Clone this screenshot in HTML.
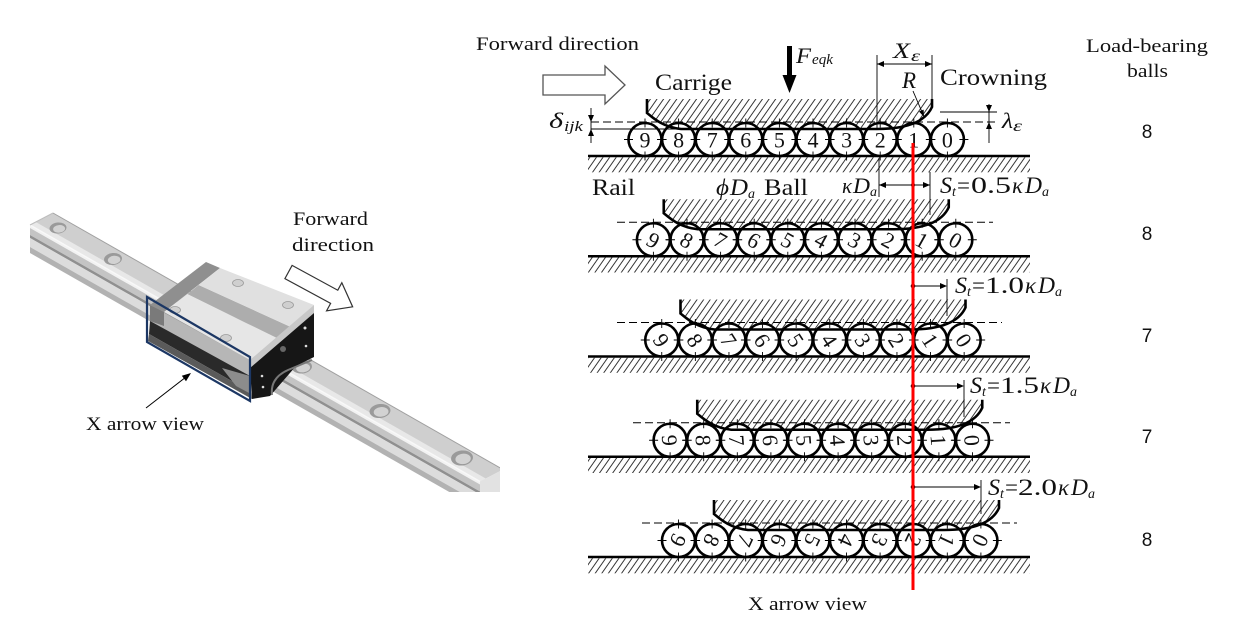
<!DOCTYPE html>
<html><head><meta charset="utf-8">
<style>
html,body{margin:0;padding:0;background:#fff;}
svg{display:block;}
text{font-family:"Liberation Serif","DejaVu Serif",serif;fill:#111;}
.s{font-family:"Liberation Sans","DejaVu Sans",sans-serif;}
.i{font-style:italic;}
</style></head><body>
<svg width="1246" height="629" viewBox="0 0 1246 629" xmlns="http://www.w3.org/2000/svg" xmlns:xlink="http://www.w3.org/1999/xlink">
<defs>
<pattern id="h" width="5.4" height="40" patternUnits="userSpaceOnUse" patternTransform="rotate(35)">
<line x1="1" y1="0" x2="1" y2="40" stroke="#222" stroke-width="0.9"/>
</pattern>
<g id="ball"><circle r="16.5" fill="#fff" stroke="#000" stroke-width="2.6"/><path d="M0 -21V-12M0 12V21M-21 0H-12M12 0H21" stroke="#000" stroke-width="0.9" fill="none"/></g>
<path id="cf" d="M647 99H932V107Q922 129 877 129H681C662 127 652 117 647 113Z"/>
<path id="co" d="M647 99V113C652 117 662 127 681 129H877Q922 129 932 107V99"/>
<clipPath id="lc"><rect x="0" y="180" width="500" height="312"/></clipPath>
</defs>

<!-- ================= LEFT 3D FIGURE ================= -->
<g clip-path="url(#lc)">
<polygon points="30,225 480,481.5 480,484.5 30,228" fill="#f2f2f2"/>
<polygon points="30,228 480,484.5 480,491.5 30,235" fill="#c4c4c4"/>
<polygon points="30,235 480,491.5 480,494.5 30,238" fill="#909090"/>
<polygon points="30,238 480,494.5 480,503.5 30,247" fill="#dcdcdc"/>
<polygon points="30,247 480,503.5 480,509.5 30,253" fill="#b2b2b2"/>
<polygon points="53,213 503,469.5 480,481.5 30,225" fill="#cfcfcf"/>
<polygon points="30,225 35.75,222 485.75,478.5 480,481.5" fill="#e8e8e8"/>
<line x1="53" y1="213" x2="503" y2="469.5" stroke="#a0a0a0" stroke-width="1"/>
<line x1="30" y1="225" x2="480" y2="481.5" stroke="#f8f8f8" stroke-width="1.4"/>
<line x1="53" y1="213" x2="30" y2="225" stroke="#bdbdbd" stroke-width="1"/>
<polygon points="503,469.5 480,481.5 480,509.5 503,497.5" fill="#e2e2e2"/>
<g transform="rotate(-6 58 228)"><ellipse cx="58" cy="228" rx="8.5" ry="5.5" fill="#9a9a9a"/><ellipse cx="59" cy="229" rx="6" ry="3.8" fill="#d2d2d2"/></g>
<g transform="rotate(-6 113 259)"><ellipse cx="113" cy="259" rx="9" ry="6" fill="#9a9a9a"/><ellipse cx="114" cy="260" rx="6.3" ry="4.1" fill="#d2d2d2"/></g>
<g transform="rotate(-6 302 367)"><ellipse cx="302" cy="367" rx="10" ry="6.5" fill="#9a9a9a"/><ellipse cx="303" cy="368" rx="7" ry="4.5" fill="#d2d2d2"/></g>
<g transform="rotate(-6 380 411)"><ellipse cx="380" cy="411" rx="10.5" ry="7" fill="#9a9a9a"/><ellipse cx="381" cy="412" rx="7.4" ry="4.8" fill="#d2d2d2"/></g>
<g transform="rotate(-6 462 458)"><ellipse cx="462" cy="458" rx="11" ry="7.5" fill="#9a9a9a"/><ellipse cx="463" cy="459" rx="7.7" ry="5.2" fill="#d2d2d2"/></g>

<!-- carriage near side -->
<polygon points="150,305 250,360 250,376 150,321" fill="#b6b6b6"/>
<polygon points="150,321 250,376 251,392 149,334" fill="#2a2a2a"/>
<polygon points="149,334 251,392 252,399 148,341" fill="#5a5a5a"/>
<polygon points="222,368 250,376 251,394 236,386" fill="#8c8c8c"/>
<!-- end cap -->
<polygon points="150,305 164,312 164,326 150,321" fill="#7a7a7a"/>
<polygon points="150,305 206,262 220,268 164,312" fill="#8f8f8f"/>
<!-- top face bands -->
<polygon points="164,312 187.5,294 276.9,338 250,360" fill="#e6e6e6"/>
<polygon points="187.5,294 198.7,285 289.7,326.5 276.9,338" fill="#adadad"/>
<polygon points="198.7,285 220,268 314,305 289.7,326.5" fill="#e0e0e0"/>
<!-- front -->
<polygon points="250,360 314,305 314,313 250,368" fill="#c8c8c8"/>
<polygon points="250,368 314,313 314,357 296,366 270,396 252,399" fill="#161616"/>
<path d="M272 395 Q270 378 288 370 L312 360" stroke="#777" stroke-width="2" fill="none"/>
<circle cx="262" cy="376" r="1.3" fill="#ddd"/><circle cx="263" cy="387" r="1.3" fill="#ddd"/>
<circle cx="305" cy="328" r="1.5" fill="#ddd"/><circle cx="306" cy="346" r="1.3" fill="#ddd"/>
<circle cx="283" cy="349" r="3" fill="#666"/>
<ellipse cx="175" cy="310" rx="5.5" ry="3.5" fill="#cfcfcf" stroke="#9a9a9a" stroke-width="0.8"/>
<ellipse cx="226" cy="338" rx="5.5" ry="3.5" fill="#cfcfcf" stroke="#9a9a9a" stroke-width="0.8"/>
<ellipse cx="238" cy="283" rx="5.5" ry="3.5" fill="#cfcfcf" stroke="#9a9a9a" stroke-width="0.8"/>
<ellipse cx="288" cy="305" rx="5.5" ry="3.5" fill="#cfcfcf" stroke="#9a9a9a" stroke-width="0.8"/>
<polygon points="147,297 250,357 250,401 147,342" fill="none" stroke="#1c3764" stroke-width="2.2"/>
</g>
<line x1="146" y1="408" x2="186" y2="377" stroke="#000" stroke-width="1"/>
<polygon points="186,381.3 181.8,375.7 191,373" fill="#000"/>
<text x="86" y="430" font-size="19" textLength="118" lengthAdjust="spacingAndGlyphs">X arrow view</text>
<text x="293" y="225" font-size="19" textLength="75" lengthAdjust="spacingAndGlyphs">Forward</text>
<text x="292" y="251" font-size="19" textLength="82" lengthAdjust="spacingAndGlyphs">direction</text>
<polygon transform="translate(288.5,272) rotate(28.5)" points="0,-7.5 52,-7.5 52,-16 73,0 52,16 52,7.5 0,7.5" fill="#fff" stroke="#333" stroke-width="1.2"/>

<!-- ================= RIGHT DIAGRAM ================= -->
<text x="476" y="50" font-size="19" textLength="163" lengthAdjust="spacingAndGlyphs">Forward direction</text>
<polygon points="543,75 605,75 605,66 625,85 605,104 605,95 543,95" fill="#fff" stroke="#555" stroke-width="1.3"/>
<text x="655" y="90" font-size="23" textLength="77" lengthAdjust="spacingAndGlyphs">Carrige</text>
<text x="940" y="85" font-size="23" textLength="107" lengthAdjust="spacingAndGlyphs">Crowning</text>
<rect x="787" y="46" width="5" height="30" fill="#000"/>
<polygon points="782.5,75 796.5,75 789.5,93" fill="#000"/>
<text x="796" y="63" font-size="22" class="i" textLength="15" lengthAdjust="spacingAndGlyphs">F</text>
<text x="812" y="64" font-size="15" class="i" textLength="21" lengthAdjust="spacingAndGlyphs">eqk</text>

<!-- rails -->
<rect x="588" y="157.3" width="442" height="15" fill="url(#h)"/>
<rect x="588" y="257.5" width="442" height="15" fill="url(#h)"/>
<rect x="588" y="357.8" width="442" height="15" fill="url(#h)"/>
<rect x="588" y="458" width="442" height="15" fill="url(#h)"/>
<rect x="588" y="558.3" width="442" height="15" fill="url(#h)"/>
<g stroke="#000" stroke-width="2.6">
<line x1="588" y1="156" x2="1030" y2="156"/>
<line x1="588" y1="256.25" x2="1030" y2="256.25"/>
<line x1="588" y1="356.5" x2="1030" y2="356.5"/>
<line x1="588" y1="456.75" x2="1030" y2="456.75"/>
<line x1="588" y1="557" x2="1030" y2="557"/>
</g>

<use xlink:href="#cf" href="#cf" fill="url(#h)"/>
<use xlink:href="#cf" href="#cf" fill="url(#h)" transform="translate(16.75,100.25)"/>
<use xlink:href="#cf" href="#cf" fill="url(#h)" transform="translate(33.5,200.5)"/>
<use xlink:href="#cf" href="#cf" fill="url(#h)" transform="translate(50.25,300.75)"/>
<use xlink:href="#cf" href="#cf" fill="url(#h)" transform="translate(67,401)"/>

<g stroke="#000" stroke-width="0.9" stroke-dasharray="8,4" fill="none">
<line x1="591" y1="122" x2="997" y2="122"/>
<line x1="617" y1="222.25" x2="993" y2="222.25"/>
<line x1="617" y1="322.5" x2="1002" y2="322.5"/>
<line x1="633" y1="422.75" x2="1010" y2="422.75"/>
<line x1="642" y1="523" x2="1017" y2="523"/>
</g>

<g font-size="22" text-anchor="middle">
<g transform="translate(645,139.5)"><use href="#ball" xlink:href="#ball"/><text y="8">9</text></g>
<g transform="translate(678.6,139.5)"><use href="#ball" xlink:href="#ball"/><text y="8">8</text></g>
<g transform="translate(712.2,139.5)"><use href="#ball" xlink:href="#ball"/><text y="8">7</text></g>
<g transform="translate(745.8,139.5)"><use href="#ball" xlink:href="#ball"/><text y="8">6</text></g>
<g transform="translate(779.4,139.5)"><use href="#ball" xlink:href="#ball"/><text y="8">5</text></g>
<g transform="translate(813,139.5)"><use href="#ball" xlink:href="#ball"/><text y="8">4</text></g>
<g transform="translate(846.6,139.5)"><use href="#ball" xlink:href="#ball"/><text y="8">3</text></g>
<g transform="translate(880.2,139.5)"><use href="#ball" xlink:href="#ball"/><text y="8">2</text></g>
<g transform="translate(913.8,139.5)"><use href="#ball" xlink:href="#ball"/><text y="8">1</text></g>
<g transform="translate(947.4,139.5)"><use href="#ball" xlink:href="#ball"/><text y="8">0</text></g>

<g transform="translate(653.4,239.75)"><use href="#ball" xlink:href="#ball"/><text y="8" transform="rotate(29)">9</text></g>
<g transform="translate(687,239.75)"><use href="#ball" xlink:href="#ball"/><text y="8" transform="rotate(29)">8</text></g>
<g transform="translate(720.6,239.75)"><use href="#ball" xlink:href="#ball"/><text y="8" transform="rotate(29)">7</text></g>
<g transform="translate(754.2,239.75)"><use href="#ball" xlink:href="#ball"/><text y="8" transform="rotate(29)">6</text></g>
<g transform="translate(787.8,239.75)"><use href="#ball" xlink:href="#ball"/><text y="8" transform="rotate(29)">5</text></g>
<g transform="translate(821.4,239.75)"><use href="#ball" xlink:href="#ball"/><text y="8" transform="rotate(29)">4</text></g>
<g transform="translate(855,239.75)"><use href="#ball" xlink:href="#ball"/><text y="8" transform="rotate(29)">3</text></g>
<g transform="translate(888.6,239.75)"><use href="#ball" xlink:href="#ball"/><text y="8" transform="rotate(29)">2</text></g>
<g transform="translate(922.2,239.75)"><use href="#ball" xlink:href="#ball"/><text y="8" transform="rotate(29)">1</text></g>
<g transform="translate(955.8,239.75)"><use href="#ball" xlink:href="#ball"/><text y="8" transform="rotate(29)">0</text></g>

<g transform="translate(661.75,340)"><use href="#ball" xlink:href="#ball"/><text y="8" transform="rotate(57)">9</text></g>
<g transform="translate(695.35,340)"><use href="#ball" xlink:href="#ball"/><text y="8" transform="rotate(57)">8</text></g>
<g transform="translate(728.95,340)"><use href="#ball" xlink:href="#ball"/><text y="8" transform="rotate(57)">7</text></g>
<g transform="translate(762.55,340)"><use href="#ball" xlink:href="#ball"/><text y="8" transform="rotate(57)">6</text></g>
<g transform="translate(796.15,340)"><use href="#ball" xlink:href="#ball"/><text y="8" transform="rotate(57)">5</text></g>
<g transform="translate(829.75,340)"><use href="#ball" xlink:href="#ball"/><text y="8" transform="rotate(57)">4</text></g>
<g transform="translate(863.35,340)"><use href="#ball" xlink:href="#ball"/><text y="8" transform="rotate(57)">3</text></g>
<g transform="translate(896.95,340)"><use href="#ball" xlink:href="#ball"/><text y="8" transform="rotate(57)">2</text></g>
<g transform="translate(930.55,340)"><use href="#ball" xlink:href="#ball"/><text y="8" transform="rotate(57)">1</text></g>
<g transform="translate(964.15,340)"><use href="#ball" xlink:href="#ball"/><text y="8" transform="rotate(57)">0</text></g>

<g transform="translate(670.1,440.25)"><use href="#ball" xlink:href="#ball"/><text y="8" transform="rotate(86)">9</text></g>
<g transform="translate(703.7,440.25)"><use href="#ball" xlink:href="#ball"/><text y="8" transform="rotate(86)">8</text></g>
<g transform="translate(737.3,440.25)"><use href="#ball" xlink:href="#ball"/><text y="8" transform="rotate(86)">7</text></g>
<g transform="translate(770.9,440.25)"><use href="#ball" xlink:href="#ball"/><text y="8" transform="rotate(86)">6</text></g>
<g transform="translate(804.5,440.25)"><use href="#ball" xlink:href="#ball"/><text y="8" transform="rotate(86)">5</text></g>
<g transform="translate(838.1,440.25)"><use href="#ball" xlink:href="#ball"/><text y="8" transform="rotate(86)">4</text></g>
<g transform="translate(871.7,440.25)"><use href="#ball" xlink:href="#ball"/><text y="8" transform="rotate(86)">3</text></g>
<g transform="translate(905.3,440.25)"><use href="#ball" xlink:href="#ball"/><text y="8" transform="rotate(86)">2</text></g>
<g transform="translate(938.9,440.25)"><use href="#ball" xlink:href="#ball"/><text y="8" transform="rotate(86)">1</text></g>
<g transform="translate(972.5,440.25)"><use href="#ball" xlink:href="#ball"/><text y="8" transform="rotate(86)">0</text></g>

<g transform="translate(678.5,540.5)"><use href="#ball" xlink:href="#ball"/><text y="8" transform="rotate(115)">9</text></g>
<g transform="translate(712.1,540.5)"><use href="#ball" xlink:href="#ball"/><text y="8" transform="rotate(115)">8</text></g>
<g transform="translate(745.7,540.5)"><use href="#ball" xlink:href="#ball"/><text y="8" transform="rotate(115)">7</text></g>
<g transform="translate(779.3,540.5)"><use href="#ball" xlink:href="#ball"/><text y="8" transform="rotate(115)">6</text></g>
<g transform="translate(812.9,540.5)"><use href="#ball" xlink:href="#ball"/><text y="8" transform="rotate(115)">5</text></g>
<g transform="translate(846.5,540.5)"><use href="#ball" xlink:href="#ball"/><text y="8" transform="rotate(115)">4</text></g>
<g transform="translate(880.1,540.5)"><use href="#ball" xlink:href="#ball"/><text y="8" transform="rotate(115)">3</text></g>
<g transform="translate(913.7,540.5)"><use href="#ball" xlink:href="#ball"/><text y="8" transform="rotate(115)">2</text></g>
<g transform="translate(947.3,540.5)"><use href="#ball" xlink:href="#ball"/><text y="8" transform="rotate(115)">1</text></g>
<g transform="translate(980.9,540.5)"><use href="#ball" xlink:href="#ball"/><text y="8" transform="rotate(115)">0</text></g>
</g>

<g fill="none" stroke="#000" stroke-width="2.6">
<use xlink:href="#co" href="#co"/>
<use xlink:href="#co" href="#co" transform="translate(16.75,100.25)"/>
<use xlink:href="#co" href="#co" transform="translate(33.5,200.5)"/>
<use xlink:href="#co" href="#co" transform="translate(50.25,300.75)"/>
<use xlink:href="#co" href="#co" transform="translate(67,401)"/>
</g>

<g stroke="#000" stroke-width="0.9" fill="none">
<line x1="591" y1="108" x2="591" y2="143"/>
<line x1="591" y1="129" x2="681" y2="129"/>
<line x1="989" y1="104" x2="989" y2="143"/>
<line x1="940" y1="112" x2="997" y2="112"/>
<line x1="877" y1="55" x2="877" y2="129"/>
<line x1="932" y1="55" x2="932" y2="99"/>
<line x1="877" y1="64" x2="932" y2="64"/>
<line x1="913" y1="91" x2="922" y2="112"/>
<line x1="879" y1="158" x2="879" y2="197"/>
<line x1="930" y1="172" x2="930" y2="215"/>
<line x1="879" y1="185" x2="930" y2="185"/>
<line x1="913" y1="286" x2="942" y2="286"/>
<line x1="947" y1="279" x2="947" y2="316"/>
<line x1="913" y1="386" x2="959" y2="386"/>
<line x1="964" y1="380" x2="964" y2="417"/>
<line x1="913" y1="487" x2="976" y2="487"/>
<line x1="981" y1="480" x2="981" y2="514"/>
</g>
<g fill="#000">
<polygon points="588,115 594,115 591,122"/>
<polygon points="588,136 594,136 591,129"/>
<polygon points="986,105 992,105 989,112"/>
<polygon points="986,129 992,129 989,122"/>
<polygon points="884,61 884,67 877,64"/>
<polygon points="925,61 925,67 932,64"/>
<polygon points="923.6,109.6 919,111.5 924,117"/>
<polygon points="886,182 886,188 879,185"/>
<polygon points="923,182 923,188 930,185"/>
<circle cx="913" cy="185" r="2"/>
<polygon points="940,283 940,289 947,286"/>
<circle cx="913" cy="286" r="2.3"/>
<polygon points="957,383 957,389 964,386"/>
<circle cx="913" cy="386" r="2.3"/>
<polygon points="974,484 974,490 981,487"/>
<circle cx="913" cy="487" r="2.3"/>
</g>

<text x="902" y="88" font-size="23" class="i">R</text>
<text x="893" y="58" font-size="22" class="i" textLength="17" lengthAdjust="spacingAndGlyphs">X</text><text x="911" y="61" font-size="16" class="i" textLength="9" lengthAdjust="spacingAndGlyphs">ε</text>
<text x="549" y="128" font-size="22" class="i" textLength="14" lengthAdjust="spacingAndGlyphs">δ</text><text x="564" y="131" font-size="15" class="i" textLength="19" lengthAdjust="spacingAndGlyphs">ijk</text>
<text x="1002" y="128" font-size="22" class="i" textLength="11" lengthAdjust="spacingAndGlyphs">λ</text><text x="1013" y="131" font-size="16" class="i" textLength="9" lengthAdjust="spacingAndGlyphs">ε</text>
<text x="592" y="195" font-size="23" textLength="43" lengthAdjust="spacingAndGlyphs">Rail</text>
<text x="716" y="195" font-size="23" class="i" textLength="13" lengthAdjust="spacingAndGlyphs">ϕ</text><text x="730" y="195" font-size="23" class="i" textLength="18" lengthAdjust="spacingAndGlyphs">D</text><text x="748" y="198" font-size="14" class="i">a</text>
<text x="764" y="195" font-size="23" textLength="44" lengthAdjust="spacingAndGlyphs">Ball</text>
<text x="842" y="193" font-size="22" class="i" textLength="10" lengthAdjust="spacingAndGlyphs">κ</text><text x="853" y="193" font-size="22" class="i" textLength="17" lengthAdjust="spacingAndGlyphs">D</text><text x="870" y="196" font-size="14" class="i">a</text>

<g font-size="23">
<text x="940" y="193" class="i" textLength="12" lengthAdjust="spacingAndGlyphs">S</text><text x="952" y="196" font-size="14" class="i">t</text><text x="957" y="193">=</text><text x="971" y="193" textLength="40" lengthAdjust="spacingAndGlyphs">0.5</text><text x="1012" y="193" class="i" textLength="11" lengthAdjust="spacingAndGlyphs">κ</text><text x="1025" y="193" class="i" textLength="17" lengthAdjust="spacingAndGlyphs">D</text><text x="1042" y="196" font-size="14" class="i">a</text>
<text x="955" y="293" class="i" textLength="12" lengthAdjust="spacingAndGlyphs">S</text><text x="967" y="296" font-size="14" class="i">t</text><text x="972" y="293">=</text><text x="985" y="293" textLength="39" lengthAdjust="spacingAndGlyphs">1.0</text><text x="1025" y="293" class="i" textLength="11" lengthAdjust="spacingAndGlyphs">κ</text><text x="1038" y="293" class="i" textLength="17" lengthAdjust="spacingAndGlyphs">D</text><text x="1055" y="296" font-size="14" class="i">a</text>
<text x="970" y="393" class="i" textLength="12" lengthAdjust="spacingAndGlyphs">S</text><text x="982" y="396" font-size="14" class="i">t</text><text x="987" y="393">=</text><text x="1000" y="393" textLength="39" lengthAdjust="spacingAndGlyphs">1.5</text><text x="1040" y="393" class="i" textLength="11" lengthAdjust="spacingAndGlyphs">κ</text><text x="1053" y="393" class="i" textLength="17" lengthAdjust="spacingAndGlyphs">D</text><text x="1070" y="396" font-size="14" class="i">a</text>
<text x="988" y="495" class="i" textLength="12" lengthAdjust="spacingAndGlyphs">S</text><text x="1000" y="498" font-size="14" class="i">t</text><text x="1005" y="495">=</text><text x="1018" y="495" textLength="39" lengthAdjust="spacingAndGlyphs">2.0</text><text x="1058" y="495" class="i" textLength="11" lengthAdjust="spacingAndGlyphs">κ</text><text x="1071" y="495" class="i" textLength="17" lengthAdjust="spacingAndGlyphs">D</text><text x="1088" y="498" font-size="14" class="i">a</text>
</g>

<text x="748" y="610" font-size="19" textLength="119" lengthAdjust="spacingAndGlyphs">X arrow view</text>

<text x="1086" y="52" font-size="19" textLength="122" lengthAdjust="spacingAndGlyphs">Load-bearing</text>
<text x="1127" y="77" font-size="19" textLength="41" lengthAdjust="spacingAndGlyphs">balls</text>
<g font-size="19" text-anchor="middle">
<text class="s" x="1147" y="138">8</text>
<text class="s" x="1147" y="240">8</text>
<text class="s" x="1147" y="342">7</text>
<text class="s" x="1147" y="443">7</text>
<text class="s" x="1147" y="546">8</text>
</g>

<line x1="913" y1="143" x2="913" y2="590" stroke="#ff0000" stroke-width="3"/>
</svg>
</body></html>
